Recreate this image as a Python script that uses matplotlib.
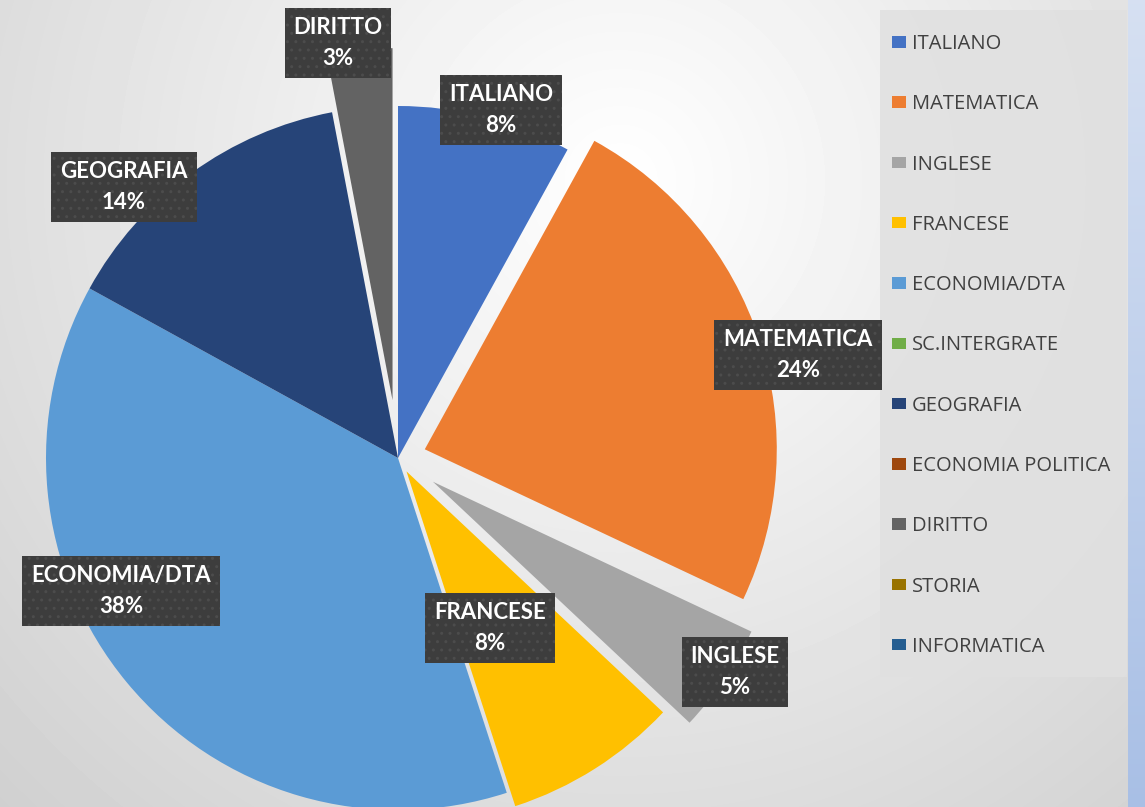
import numpy as np
import matplotlib.pyplot as plt
from matplotlib.patches import Rectangle

# data
subjects = ['ITALIANO', 'MATEMATICA', 'INGLESE', 'FRANCESE', 'ECONOMIA/DTA',
            'SC.INTERGRATE', 'GEOGRAFIA', 'ECONOMIA POLITICA', 'DIRITTO',
            'STORIA', 'INFORMATICA']
percent = [8, 24, 5, 8, 38, 0, 14, 0, 3, 0, 0]
colors = ['#4472C4', '#ED7D31', '#A5A5A5', '#FFC000', '#5B9BD5', '#70AD47',
          '#264478', '#9E480E', '#636363', '#997300', '#255E91']
explode_frac = [0.0, 0.08, 0.12, 0.045, 0.0, 0.0, 0.0, 0.0, 0.165, 0.0, 0.0]

# layout (pixels from top-left)
W, H = 1145, 807
R = 352
cx, cy = 398, 458
label_pos = {'ITALIANO': (501, 110), 'MATEMATICA': (798, 355), 'INGLESE': (735, 672),
             'FRANCESE': (490, 628), 'ECONOMIA/DTA': (121, 591),
             'GEOGRAFIA': (124, 187), 'DIRITTO': (338, 43)}

fig = plt.figure(figsize=(W / 100, H / 100), dpi=100)
ax = fig.add_axes([0, 0, 1, 1])

# background gradient
yy, xx = np.mgrid[0:H, 0:1128]
d = np.hypot(xx - 620, yy - 180)
bg = np.clip(1.0 - 0.00021 * d, 0, 1)
ax.imshow(bg, cmap='gray', vmin=0, vmax=1, extent=(0, 1128, 0, H), origin='upper', zorder=0)
t = np.linspace(0, 1, H)[:, None] * np.ones((1, W - 1128))
blue = np.dstack([0.84 - 0.18 * t, 0.88 - 0.13 * t, 0.95 - 0.05 * t])
ax.imshow(blue, extent=(1128, W, 0, H), origin='upper', zorder=0)

# pie
wedges, _ = ax.pie(percent, colors=colors, startangle=90, counterclock=False,
                   radius=R, center=(cx, H - cy),
                   explode=[e * R for e in explode_frac],
                   wedgeprops=dict(linewidth=0), frame=True)

# data labels
for name, p in zip(subjects, percent):
    if p == 0:
        continue
    x, y = label_pos[name]
    ax.text(x, H - y, f'{name}\n{p}%', ha='center', va='center', color='white',
            fontsize=16, fontweight='bold', family='Lato', linespacing=1.6,
            bbox=dict(boxstyle='square,pad=0.4', facecolor='#3d3d3d',
                      edgecolor='#4c4c4c', linewidth=0, hatch='..'), zorder=5)

# legend box
ax.add_patch(Rectangle((880, H - 677), 247, 667, facecolor='#e0e0e0',
                       edgecolor='none', alpha=0.85, zorder=3))
leg = ax.legend(wedges, subjects, loc='upper left', bbox_to_anchor=(892, H - 34),
                bbox_transform=ax.transData, frameon=False, borderpad=0,
                borderaxespad=0, handlelength=0.7, handleheight=0.5,
                handletextpad=0.3, labelspacing=2.0,
                prop=dict(family='Open Sans', size=14.5))
for txt in leg.get_texts():
    txt.set_color('#404040')
leg.set_zorder(4)

ax.set_xlim(0, W)
ax.set_ylim(0, H)
ax.set_aspect('equal')
ax.axis('off')

fig.savefig('out.png', dpi=100)
